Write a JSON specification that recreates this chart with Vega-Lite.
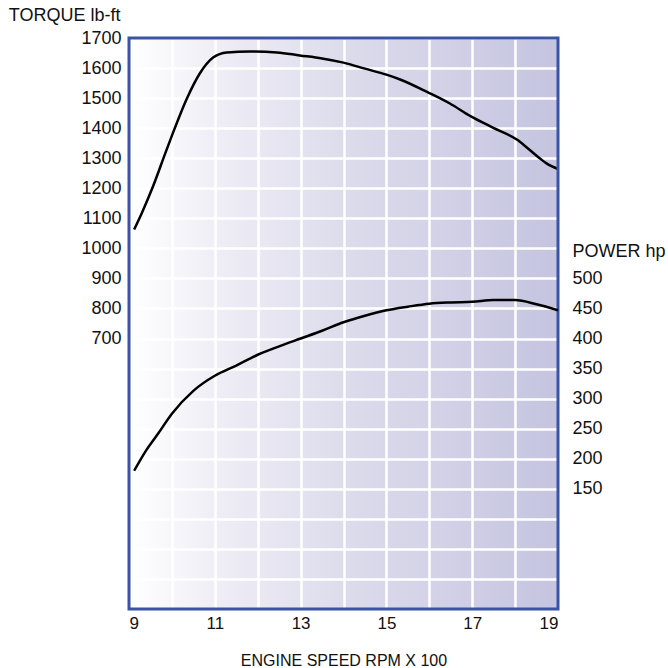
{
  "$schema": "https://vega.github.io/schema/vega-lite/v6.json",
  "width": 429,
  "height": 571,
  "autosize": {"type": "none"},
  "padding": {"left": 129, "top": 38, "right": 110, "bottom": 59},
  "background": "white",
  "config": {
    "view": {
      "stroke": null,
      "fill": {
        "gradient": "linear",
        "x1": 0, "y1": 0, "x2": 1, "y2": 0,
        "stops": [
          {"offset": 0, "color": "#ffffff"},
          {"offset": 0.2, "color": "#efeef6"},
          {"offset": 0.5, "color": "#dddcec"},
          {"offset": 1, "color": "#c5c4e0"}
        ]
      }
    },
    "axis": {
      "labelFont": "Liberation Sans",
      "titleFont": "Liberation Sans",
      "labelFontSize": 18,
      "titleFontSize": 18,
      "labelColor": "#111111",
      "titleColor": "#111111",
      "titleFontWeight": "normal",
      "labelOverlap": false,
      "labelBound": false,
      "domain": false,
      "ticks": false,
      "gridColor": "#ffffff",
      "gridWidth": 2.5,
      "gridOpacity": 1
    }
  },
  "layer": [
    {
      "layer": [
        {
          "data": {
            "values": [
              {"rpm": 9.12, "torque": 1063},
              {"rpm": 9.3, "torque": 1118},
              {"rpm": 9.54, "torque": 1199},
              {"rpm": 9.86, "torque": 1322},
              {"rpm": 10.0, "torque": 1375},
              {"rpm": 10.35, "torque": 1499},
              {"rpm": 10.65, "torque": 1582},
              {"rpm": 10.96, "torque": 1635},
              {"rpm": 11.28, "torque": 1652},
              {"rpm": 11.82, "torque": 1655},
              {"rpm": 12.45, "torque": 1652},
              {"rpm": 12.98, "torque": 1642},
              {"rpm": 13.5, "torque": 1632},
              {"rpm": 14.0, "torque": 1618},
              {"rpm": 14.5, "torque": 1598},
              {"rpm": 15.0, "torque": 1578},
              {"rpm": 15.32, "torque": 1562},
              {"rpm": 15.97, "torque": 1519},
              {"rpm": 16.48, "torque": 1482},
              {"rpm": 16.97, "torque": 1439},
              {"rpm": 17.48, "torque": 1402},
              {"rpm": 18.04, "torque": 1362},
              {"rpm": 18.28, "torque": 1335},
              {"rpm": 18.58, "torque": 1299},
              {"rpm": 18.74, "torque": 1282},
              {"rpm": 19.0, "torque": 1264}
            ]
          },
          "mark": {"type": "line", "interpolate": "monotone", "color": "#000000", "strokeWidth": 2.5},
          "encoding": {
            "x": {
              "field": "rpm",
              "type": "quantitative",
              "scale": {"domain": [9, 19], "nice": false, "zero": false},
              "axis": {
                "values": [9, 10, 11, 12, 13, 14, 15, 16, 17, 18, 19],
                "tickCount": 40,
                "labelExpr": "datum.value % 2 == 1 ? datum.label : ''",
                "format": "d",
                "labelFontSize": 17,
                "labelPadding": 6,
                "title": "ENGINE SPEED RPM X 100",
                "titleFontSize": 16,
                "titleBaseline": "alphabetic",
                "titleY": 56
              }
            },
            "y": {
              "field": "torque",
              "type": "quantitative",
              "scale": {"domain": [-200, 1700], "nice": false, "zero": false},
              "axis": {
                "values": [-200, -100, 0, 100, 200, 300, 400, 500, 600, 700, 800, 900, 1000, 1100, 1200, 1300, 1400, 1500, 1600, 1700],
                "tickCount": 40,
                "format": "d",
                "labelExpr": "datum.value >= 700 ? datum.label : ''",
                "labelPadding": 8,
                "title": "TORQUE lb-ft",
                "titleAngle": 0,
                "titleAlign": "right",
                "titleBaseline": "alphabetic",
                "titleX": -9,
                "titleY": -18
              }
            }
          }
        },
        {
          "data": {"values": [{"x1": 9, "x2": 19, "y1": -200, "y2": 1700}]},
          "mark": {"type": "rect", "fill": null, "fillOpacity": 0, "stroke": "#3a53a4", "strokeWidth": 3},
          "encoding": {
            "x": {"field": "x1", "type": "quantitative"},
            "x2": {"field": "x2"},
            "y": {"field": "y1", "type": "quantitative"},
            "y2": {"field": "y2"}
          }
        }
      ]
    },
    {
      "data": {
        "values": [
          {"rpm": 9.12, "power": 180},
          {"rpm": 9.4, "power": 214},
          {"rpm": 9.68, "power": 242},
          {"rpm": 10.0, "power": 275},
          {"rpm": 10.5, "power": 313},
          {"rpm": 11.0, "power": 338},
          {"rpm": 11.5, "power": 355},
          {"rpm": 12.0, "power": 373},
          {"rpm": 12.5, "power": 387},
          {"rpm": 13.0, "power": 400},
          {"rpm": 13.5, "power": 413},
          {"rpm": 14.0, "power": 427},
          {"rpm": 14.5, "power": 438},
          {"rpm": 15.0, "power": 447},
          {"rpm": 15.5, "power": 453},
          {"rpm": 16.0, "power": 458},
          {"rpm": 16.5, "power": 460},
          {"rpm": 17.0, "power": 461},
          {"rpm": 17.5, "power": 464},
          {"rpm": 18.0, "power": 464},
          {"rpm": 18.5, "power": 457},
          {"rpm": 19.0, "power": 447}
        ]
      },
      "mark": {"type": "line", "interpolate": "monotone", "color": "#000000", "strokeWidth": 2.5},
      "encoding": {
        "x": {"field": "rpm", "type": "quantitative"},
        "y": {
          "field": "power",
          "type": "quantitative",
          "scale": {"domain": [-50, 900], "nice": false, "zero": false},
          "axis": {
            "orient": "right",
            "grid": false,
            "values": [150, 200, 250, 300, 350, 400, 450, 500],
            "tickCount": 40,
            "format": "d",
            "labelAlign": "left",
            "labelPadding": 14,
            "title": "POWER hp",
            "titleAngle": 0,
            "titleAlign": "left",
            "titleBaseline": "alphabetic",
            "titleX": 14,
            "titleY": 218
          }
        }
      }
    }
  ],
  "resolve": {"scale": {"y": "independent"}}
}
